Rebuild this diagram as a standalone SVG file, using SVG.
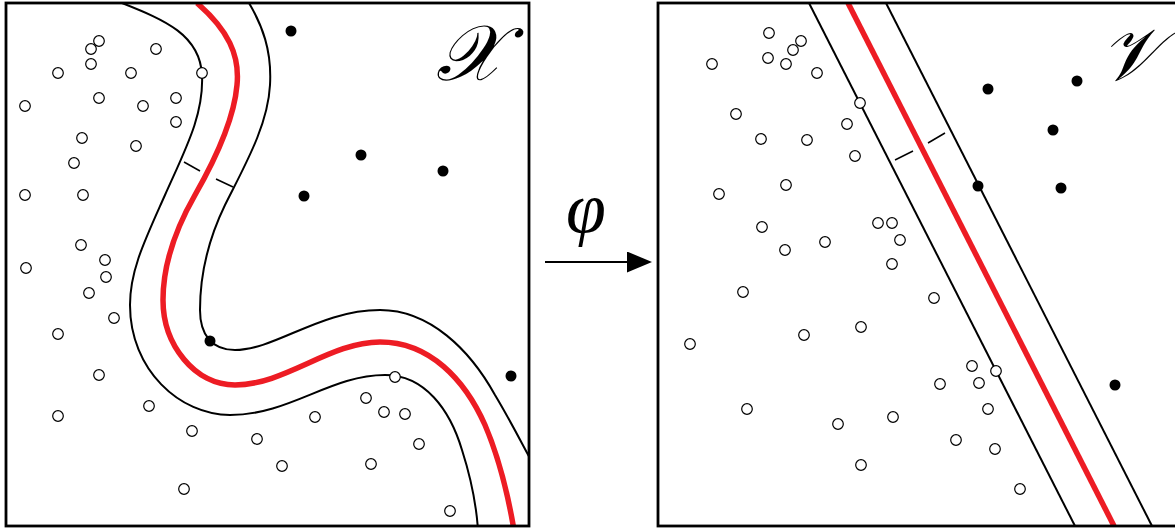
<svg xmlns="http://www.w3.org/2000/svg" width="1175" height="529" viewBox="0 0 1175 529">
<style>
.frame{fill:none;stroke:#000;stroke-width:2.8}
.edge{fill:none;stroke:#000;stroke-width:2}
.center{fill:none;stroke:#ED1C24;stroke-width:5.5}
.tick{stroke:#000;stroke-width:1.5}
.o{fill:#fff;stroke:#000;stroke-width:1.2}
.f{fill:#000}
.lbl{font-family:"DejaVu Serif","Liberation Serif",serif;font-style:italic;fill:#000}
.greek{font-family:"Liberation Serif",serif;font-style:italic;fill:#000}
</style>
<defs>
<clipPath id="clipL"><rect x="6" y="3" width="523" height="523"/></clipPath>
<clipPath id="clipR"><rect x="658" y="3" width="523" height="523"/></clipPath>
<marker id="arrow" markerWidth="25" markerHeight="21" refX="0" refY="10.5" orient="auto" markerUnits="userSpaceOnUse" viewBox="0 0 25 21"><path d="M0,0 L25,10.5 L0,21 z" fill="#000"/></marker>
</defs>
<rect width="1175" height="529" fill="#fff"/>

<g id="panel-x">
<g clip-path="url(#clipL)">
<path class="edge" d="M122,3 C165,20 200,35 202,75 C204,115 185,150 165,195 C145,240 130,270 130,305 C130,370 180,415 230,415 C290,415 330,375 385,375 C425,375 450,410 462,450 C470,475 476,500 478,530"/>
<path class="center" d="M197,3 C228,30 240,55 237,85 C234,120 215,160 195,195 C175,230 163,265 163,300 C163,345 195,385 235,385 C285,385 330,342 380,342 C430,342 465,380 485,425 C500,460 508,495 514,530"/>
<path class="edge" d="M249,3 C262,25 272,50 270,85 C268,125 245,165 225,205 C208,240 200,275 200,310 C200,335 212,350 235,350 C275,350 320,310 380,310 C430,310 470,350 495,395 C510,420 520,440 532,462"/>
<line class="tick" x1="184" y1="162" x2="200" y2="171"/>
<line class="tick" x1="216" y1="179" x2="233" y2="187"/>
</g>
<rect class="frame" x="6" y="3" width="523" height="523"/>
<g id="x-points-open">
<circle class="o" cx="99" cy="41" r="5.3"/><circle class="o" cx="91" cy="49" r="5.3"/><circle class="o" cx="156" cy="49" r="5.3"/><circle class="o" cx="91" cy="64" r="5.3"/><circle class="o" cx="58" cy="73" r="5.3"/><circle class="o" cx="131" cy="73" r="5.3"/><circle class="o" cx="202" cy="73" r="5.3"/><circle class="o" cx="99" cy="98" r="5.3"/><circle class="o" cx="176" cy="98" r="5.3"/><circle class="o" cx="25" cy="106" r="5.3"/><circle class="o" cx="143" cy="106" r="5.3"/><circle class="o" cx="176" cy="122" r="5.3"/><circle class="o" cx="82" cy="138" r="5.3"/><circle class="o" cx="136" cy="146" r="5.3"/><circle class="o" cx="74" cy="163" r="5.3"/><circle class="o" cx="25" cy="195" r="5.3"/><circle class="o" cx="83" cy="195" r="5.3"/><circle class="o" cx="81" cy="245" r="5.3"/><circle class="o" cx="105" cy="260" r="5.3"/><circle class="o" cx="26" cy="268" r="5.3"/><circle class="o" cx="106" cy="277" r="5.3"/><circle class="o" cx="89" cy="293" r="5.3"/><circle class="o" cx="114" cy="318" r="5.3"/><circle class="o" cx="58" cy="334" r="5.3"/><circle class="o" cx="99" cy="375" r="5.3"/><circle class="o" cx="149" cy="406" r="5.3"/><circle class="o" cx="58" cy="416" r="5.3"/><circle class="o" cx="192" cy="431" r="5.3"/><circle class="o" cx="257" cy="439" r="5.3"/><circle class="o" cx="282" cy="466" r="5.3"/><circle class="o" cx="184" cy="489" r="5.3"/><circle class="o" cx="395" cy="377" r="5.3"/><circle class="o" cx="366" cy="398" r="5.3"/><circle class="o" cx="384" cy="412" r="5.3"/><circle class="o" cx="405" cy="414" r="5.3"/><circle class="o" cx="315" cy="417" r="5.3"/><circle class="o" cx="419" cy="444" r="5.3"/><circle class="o" cx="371" cy="464" r="5.3"/><circle class="o" cx="450" cy="511" r="5.3"/>
</g>
<g id="x-points-filled">
<circle class="f" cx="291" cy="31" r="5.5"/><circle class="f" cx="361" cy="155" r="5.5"/><circle class="f" cx="443" cy="171" r="5.5"/><circle class="f" cx="304" cy="196" r="5.5"/><circle class="f" cx="210" cy="341" r="5.5"/><circle class="f" cx="511" cy="376" r="5.5"/>
</g>
<text class="lbl" x="436" y="80" font-size="78">𝒳</text>
</g>

<g id="connectors">
<line x1="545" y1="262" x2="627" y2="262" stroke="#000" stroke-width="2" marker-end="url(#arrow)"/>
<text class="greek" x="566" y="232" font-size="72">φ</text>
</g>

<g id="panel-v">
<g clip-path="url(#clipR)">
<line class="edge" x1="809" y1="3" x2="1075" y2="526"/>
<line class="center" x1="848" y1="3" x2="1114" y2="526"/>
<line class="edge" x1="886" y1="3" x2="1152" y2="526"/>
<line class="tick" x1="895" y1="160" x2="913" y2="151"/>
<line class="tick" x1="928" y1="143" x2="945" y2="133"/>
</g>
<rect class="frame" x="658" y="3" width="523" height="523"/>
<g id="v-points-open">
<circle class="o" cx="769" cy="33" r="5.3"/><circle class="o" cx="801" cy="41" r="5.3"/><circle class="o" cx="793" cy="50" r="5.3"/><circle class="o" cx="768" cy="58" r="5.3"/><circle class="o" cx="786" cy="64" r="5.3"/><circle class="o" cx="712" cy="64" r="5.3"/><circle class="o" cx="817" cy="73" r="5.3"/><circle class="o" cx="860" cy="103" r="5.3"/><circle class="o" cx="736" cy="114" r="5.3"/><circle class="o" cx="847" cy="124" r="5.3"/><circle class="o" cx="761" cy="139" r="5.3"/><circle class="o" cx="807" cy="140" r="5.3"/><circle class="o" cx="855" cy="156" r="5.3"/><circle class="o" cx="786" cy="185" r="5.3"/><circle class="o" cx="719" cy="194" r="5.3"/><circle class="o" cx="878" cy="223" r="5.3"/><circle class="o" cx="892" cy="223" r="5.3"/><circle class="o" cx="762" cy="227" r="5.3"/><circle class="o" cx="900" cy="240" r="5.3"/><circle class="o" cx="825" cy="242" r="5.3"/><circle class="o" cx="785" cy="250" r="5.3"/><circle class="o" cx="892" cy="264" r="5.3"/><circle class="o" cx="743" cy="292" r="5.3"/><circle class="o" cx="934" cy="298" r="5.3"/><circle class="o" cx="861" cy="327" r="5.3"/><circle class="o" cx="804" cy="335" r="5.3"/><circle class="o" cx="690" cy="344" r="5.3"/><circle class="o" cx="972" cy="366" r="5.3"/><circle class="o" cx="996" cy="371" r="5.3"/><circle class="o" cx="940" cy="384" r="5.3"/><circle class="o" cx="979" cy="383" r="5.3"/><circle class="o" cx="988" cy="409" r="5.3"/><circle class="o" cx="747" cy="409" r="5.3"/><circle class="o" cx="893" cy="417" r="5.3"/><circle class="o" cx="838" cy="424" r="5.3"/><circle class="o" cx="956" cy="440" r="5.3"/><circle class="o" cx="995" cy="449" r="5.3"/><circle class="o" cx="861" cy="465" r="5.3"/><circle class="o" cx="1020" cy="489" r="5.3"/>
</g>
<g id="v-points-filled">
<circle class="f" cx="988" cy="89" r="5.5"/><circle class="f" cx="1077" cy="81" r="5.5"/><circle class="f" cx="1053" cy="130" r="5.5"/><circle class="f" cx="978" cy="186" r="5.5"/><circle class="f" cx="1061" cy="188" r="5.5"/><circle class="f" cx="1115" cy="385" r="5.5"/>
</g>
<text class="lbl" x="1100" y="80" font-size="74">𝒱</text>
</g>
</svg>
